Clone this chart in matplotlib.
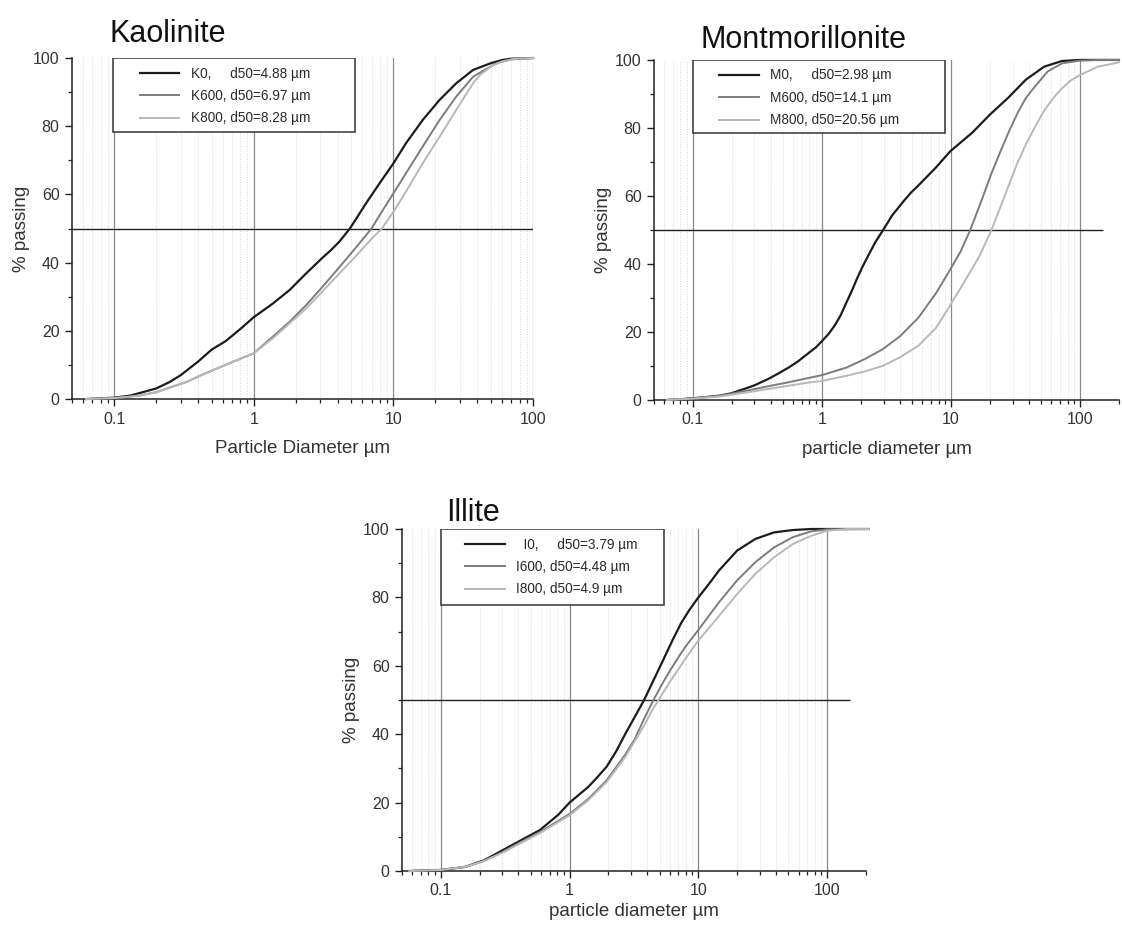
import numpy as np
import matplotlib
matplotlib.use("Agg")
import matplotlib.pyplot as plt
from matplotlib.patches import Rectangle
from matplotlib.ticker import LogLocator, FixedLocator, NullFormatter, FixedFormatter

plt.rcParams['font.family'] = ['Liberation Sans', 'DejaVu Sans']

# Kaolinite
k0_d = [0.063, 0.1, 0.13, 0.16, 0.2, 0.25, 0.3, 0.4, 0.5, 0.63, 0.8, 1, 1.37, 1.81, 2.38, 3.12,
        3.6, 4.13, 4.88, 5.5, 6.37, 7.94, 10, 12.3, 16.2, 21.4, 28.2, 37.2, 50, 60, 70, 100]
k0_p = [0, 0.4, 1, 2, 3.1, 5, 7, 11, 14.5, 17, 20.5, 24, 28, 32, 36.9, 41.5,
        43.8, 46.3, 50, 53.3, 57.4, 63.2, 69.1, 75, 81.8, 87.7, 92.6, 96.5, 98.5, 99.4, 99.8, 100]
k600_d = [0.063, 0.1, 0.13, 0.16, 0.2, 0.26, 0.33, 0.41, 0.5, 0.65, 0.8, 1, 1.37, 1.81, 2.38, 3.12,
          4.13, 5.46, 6.97, 8.4, 10, 12.3, 16.2, 21.4, 28.2, 37.2, 45, 55, 70, 100]
k600_p = [0, 0.3, 0.7, 1.2, 2, 3.6, 5, 6.8, 8.3, 10.3, 11.8, 13.4, 18.3, 22.7, 27.6, 33,
          38.8, 44.7, 50, 55.4, 60.3, 66.2, 74, 81.8, 88.7, 94.5, 96.5, 98.5, 99.6, 100]
k800_d = [0.063, 0.1, 0.13, 0.16, 0.2, 0.26, 0.33, 0.41, 0.5, 0.65, 0.8, 1, 1.37, 2.38, 4.13,
          5.46, 7.2, 8.28, 10, 12.3, 16.2, 21.4, 28.2, 37.2, 41.7, 50, 60, 75, 100]
k800_p = [0, 0.3, 0.7, 1.2, 2, 3.6, 5, 6.8, 8.3, 10.3, 11.8, 13.4, 17.8, 26.6, 36.9,
          42.2, 47.6, 50, 54.9, 60.8, 69.1, 76.9, 84.8, 92.6, 95, 97.5, 99, 99.8, 100]

# Montmorillonite
m0_d = [0.063, 0.08, 0.1, 0.13, 0.164, 0.2, 0.257, 0.3, 0.38, 0.45, 0.55, 0.65, 0.8, 0.9, 1,
        1.13, 1.26, 1.4, 1.54, 1.7, 1.85, 2.05, 2.25, 2.6, 2.98, 3.5, 4.3, 4.9, 5.56, 7.65, 9.9,
        14.6, 20.1, 27.6, 38, 52.5, 72.5, 100, 200]
m0_p = [0, 0.2, 0.5, 0.9, 1.3, 2, 3.4, 4.3, 6.1, 7.6, 9.5, 11.3, 14, 15.5, 17.3,
        19.5, 22, 25, 28.5, 32, 35.3, 39, 42, 46.5, 50, 54.3, 58.5, 61, 63, 68.4, 73.2,
        78.6, 84, 88.8, 94.2, 98, 99.7, 100, 100]
m600_d = [0.063, 0.1, 0.16, 0.26, 0.38, 0.55, 0.75, 1, 1.54, 2.14, 2.95, 4.04, 5.56, 7.65, 9.9,
          11.8, 14.1, 17.6, 20.5, 24.2, 28.5, 33.4, 38, 43.6, 56, 72.5, 100, 137, 200]
m600_p = [0, 0.5, 1.2, 2.7, 4, 5.2, 6.3, 7.3, 9.5, 12, 14.9, 18.8, 24.1, 31.4, 38.5,
          43.5, 50, 59.6, 66.5, 73.2, 79.5, 85, 88.8, 91.7, 96.6, 99, 99.8, 100, 100]
m800_d = [0.063, 0.1, 0.16, 0.26, 0.38, 0.55, 0.75, 1, 1.54, 2.14, 2.95, 4, 5.56, 7.65, 9.9,
          12.8, 16.7, 20.56, 24, 27.6, 32.5, 38, 45, 52.5, 62, 72.5, 85, 100, 137, 200]
m800_p = [0, 0.4, 1, 2.2, 3.2, 4.2, 5, 5.6, 7.1, 8.4, 10, 12.5, 15.9, 21.2, 28,
          35, 42.5, 50, 56.5, 62.5, 69.5, 75.2, 80.5, 85, 88.8, 91.7, 94, 95.6, 98, 99.3]

# Illite
i0_d = [0.057, 0.1, 0.155, 0.216, 0.3, 0.42, 0.59, 0.82, 1, 1.39, 1.65, 1.94, 2.3, 2.7, 3.79,
        5.3, 6.3, 7.35, 8.5, 10, 12, 14.4, 20, 27.7, 38.6, 54, 75, 210]
i0_p = [0, 0.3, 1.2, 3.1, 6, 9, 12, 16.5, 20, 24.5, 27.5, 30.5, 35, 40, 50,
        61.5, 67.5, 72.5, 76.3, 80, 83.8, 87.8, 93.7, 97.1, 99, 99.7, 100, 100]
i600_d = [0.057, 0.1, 0.155, 0.216, 0.3, 0.42, 0.59, 1, 1.39, 1.94, 2.7, 3.2, 3.79, 4.48, 5.2,
          6, 7, 7.9, 10, 12, 14.4, 20, 27.7, 38.6, 54, 75, 100, 210]
i600_p = [0, 0.3, 1.2, 2.9, 5.5, 8.5, 11.4, 16.7, 21, 26.5, 34, 38.5, 44.5, 50, 54.5,
          58.5, 62.5, 65.5, 70.5, 74.5, 78.5, 85, 90.3, 94.6, 97.6, 99.3, 99.9, 100]
i800_d = [0.057, 0.1, 0.155, 0.216, 0.3, 0.42, 0.59, 1, 1.39, 1.94, 2.7, 3.79, 4.3, 4.9, 5.5,
          6, 7, 7.9, 10, 14.4, 20, 27.7, 38.6, 54, 75, 100, 145, 210]
i800_p = [0, 0.3, 1.2, 2.9, 5.3, 8.2, 11.1, 16.3, 20.6, 26, 33.3, 42.5, 46.5, 50, 53,
          55.3, 59, 62, 67.4, 74.5, 81, 86.9, 91.7, 95.6, 98, 99.5, 100, 100]

colors = ['#1c1c1c', '#7c7c7c', '#b8b8b8']
widths = [1.6, 1.4, 1.4]

panels = [
    dict(title='Kaolinite', xlabel='Particle Diameter µm',
         rect=[0.0642, 0.5686, 0.4109, 0.3687], xmax=100, hmax=100,
         curves=[(k0_d, k0_p), (k600_d, k600_p), (k800_d, k800_p)],
         labels=['K0,     d50=4.88 µm', 'K600, d50=6.97 µm', 'K800, d50=8.28 µm'],
         title_xy=(0.098, 0.9546), box=(0.089, 0.614, 0.783), hx=0.147, lpad=10),
    dict(title='Montmorillonite', xlabel='particle diameter µm',
         rect=[0.5829, 0.5676, 0.4144, 0.3676], xmax=200, hmax=150,
         curves=[(m0_d, m0_p), (m600_d, m600_p), (m800_d, m800_p)],
         labels=['M0,     d50=2.98 µm', 'M600, d50=14.1 µm', 'M800, d50=20.56 µm'],
         title_xy=(0.624, 0.948), box=(0.084, 0.626, 0.785), hx=0.14, lpad=10),
    dict(title='Illite', xlabel='particle diameter µm',
         rect=[0.3583, 0.0584, 0.4135, 0.3697], xmax=200, hmax=150,
         curves=[(i0_d, i0_p), (i600_d, i600_p), (i800_d, i800_p)],
         labels=['  I0,     d50=3.79 µm', 'I600, d50=4.48 µm', 'I800, d50=4.9 µm'],
         title_xy=(0.398, 0.4368), box=(0.084, 0.565, 0.778), hx=0.136, lpad=3),
]

fig = plt.figure(figsize=(11.22, 9.25), dpi=100)

for p in panels:
    ax = fig.add_axes(p['rect'])
    ax.set_xscale('log')
    ax.set_xlim(0.05, p['xmax'])
    ax.set_ylim(0, 100)

    # light dotted minor grid, darker decade lines
    ax.xaxis.set_minor_locator(LogLocator(base=10, subs=np.arange(2, 10)))
    ax.xaxis.set_minor_formatter(NullFormatter())
    ax.xaxis.set_major_locator(FixedLocator([0.1, 1, 10, 100]))
    ax.xaxis.set_major_formatter(FixedFormatter(['0.1', '1', '10', '100']))
    ax.grid(True, which='minor', axis='x', color='#d8d8d8', linestyle=':', linewidth=0.7)
    ax.grid(True, which='major', axis='x', color='#8a8a8a', linestyle='-', linewidth=0.9)
    ax.set_axisbelow(True)

    ax.set_yticks([0, 20, 40, 60, 80, 100])
    ax.set_yticks([10, 30, 50, 70, 90], minor=True)

    for s in ['top', 'right']:
        ax.spines[s].set_visible(False)
    for s in ['left', 'bottom']:
        ax.spines[s].set_linewidth(1.1)
        ax.spines[s].set_color('#222222')

    ax.tick_params(which='major', direction='out', length=5, width=1, colors='#222222',
                   labelsize=11.5, labelcolor='#333333', pad=4)
    ax.tick_params(which='minor', direction='out', length=3, width=0.9, colors='#222222')

    ax.hlines(50, 0.05, p['hmax'], color='#222222', linewidth=1.0, zorder=3)

    for (d, v), c, w, lab in zip(p['curves'], colors, widths, p['labels']):
        ax.plot(d, v, color=c, linewidth=w, label=lab, zorder=4, clip_on=False)

    # legend box drawn separately so its size can be set
    x0, x1, y0 = p['box']
    ax.add_patch(Rectangle((x0, y0), x1 - x0, 1.0 - y0, transform=ax.transAxes,
                           facecolor='white', edgecolor='#333333', linewidth=1.1, zorder=5))
    leg = ax.legend(loc='upper left', bbox_to_anchor=(p['hx'], 0.975), frameon=False,
                    borderaxespad=0, borderpad=0, fontsize=9.8, handlelength=2.9,
                    handletextpad=0.85, labelspacing=0.62)
    leg.set_zorder(6)
    for t in leg.get_texts():
        t.set_color('#2a2a2a')

    ax.set_xlabel(p['xlabel'], fontsize=13.5, color='#333333', labelpad=p['lpad'])
    ax.set_ylabel('% passing', fontsize=13.5, color='#333333', labelpad=2)

    fig.text(p['title_xy'][0], p['title_xy'][1], p['title'], fontsize=22,
             va='baseline', ha='left', color='#111111')

fig.savefig('out.png', dpi=100)
